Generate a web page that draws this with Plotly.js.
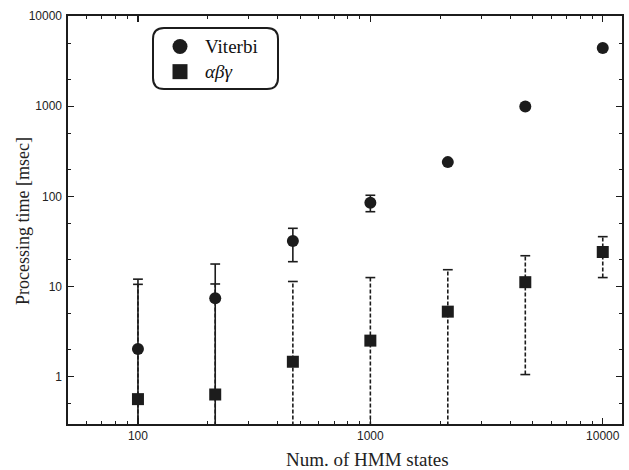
<!DOCTYPE html>
<html>
<head>
<meta charset="utf-8">
<script src="https://cdn.plot.ly/plotly-3.0.1.min.js"></script>
<style>html,body{margin:0;padding:0;background:#fff;}#chart{width:629px;height:470px;}</style>
</head>
<body>
<div id="chart"></div>
<script>
// Data
const states = [100, 215, 464, 1000, 2154, 4642, 10000];
const viterbi = [2.04, 7.45, 32, 85, 240, 990, 4430];
const viterbiHi = [12.1, 17.8, 44.3, 103, null, null, null];
const viterbiLo = [0, 0, 18.9, 67.7, null, null, null];
const abg = [0.566, 0.637, 1.47, 2.52, 5.28, 11.2, 24.2];
const abgHi = [10.6, 10.7, 11.4, 12.6, 15.4, 22, 35.8];
const abgLo = [0, 0, 0, 0, 0, 1.06, 12.6];
const seriesNames = ['Viterbi', '<i>αβγ</i>'];
const xTitle = 'Num. of HMM states';
const yTitle = 'Processing time [msec]';

const INK = '#1c1c1c';
const SERIF = '"Liberation Serif", "DejaVu Serif", serif';
const FLOOR = 1e-3; // lower bound "0" drawn to below the axis

function barLines(xs, lo, hi, dash) {
  const X = [], Y = [];
  for (let i = 0; i < xs.length; i++) {
    if (hi[i] == null) continue;
    X.push(xs[i], xs[i], null);
    Y.push(lo[i] > 0 ? lo[i] : FLOOR, hi[i], null);
  }
  return {x: X, y: Y, mode: 'lines', showlegend: false, hoverinfo: 'skip',
          line: {color: INK, width: 1.6, dash: dash}};
}
function barCaps(xs, lo, hi) {
  const X = [], Y = [];
  for (let i = 0; i < xs.length; i++) {
    if (hi[i] != null) { X.push(xs[i]); Y.push(hi[i]); }
    if (lo[i] != null && lo[i] > 0) { X.push(xs[i]); Y.push(lo[i]); }
  }
  return {x: X, y: Y, mode: 'markers', showlegend: false, hoverinfo: 'skip',
          marker: {symbol: 'line-ew', size: 7, color: INK, line: {color: INK, width: 1.6}}};
}

const traces = [
  barLines(states, viterbiLo, viterbiHi, 'solid'),
  barCaps(states, viterbiLo, viterbiHi),
  barLines(states, abgLo, abgHi, '4px,2px'),
  barCaps(states, abgLo, abgHi),
  {x: states, y: viterbi, name: seriesNames[0], mode: 'markers', showlegend: false,
   marker: {symbol: 'circle', size: 12, color: INK}},
  {x: states, y: abg, name: seriesNames[1], mode: 'markers', showlegend: false,
   marker: {symbol: 'square', size: 12, color: INK}},
  // legend keys (no data points); their labels are drawn as annotations below
  {x: [null], y: [null], name: '\u00a0', mode: 'markers', showlegend: true,
   marker: {symbol: 'circle', size: 15, color: INK}},
  {x: [null], y: [null], name: '\u00a0', mode: 'markers', showlegend: true,
   marker: {symbol: 'square', size: 15, color: INK}}
];

const W = 629, H = 470, ML = 68, MR = 7, MT = 16, MB = 46;
const PW = W - ML - MR, PH = H - MT - MB;
function px(x) { return (x - ML) / PW; }
function py(y) { return (H - MB - y) / PH; }
function roundRect(x0, y0, x1, y1, r) {
  const rx = r / PW, ry = r / PH;
  const a = px(x0), b = px(x1), top = py(y0), bot = py(y1);
  return `M ${a + rx},${top} L ${b - rx},${top} Q ${b},${top} ${b},${top - ry} ` +
         `L ${b},${bot + ry} Q ${b},${bot} ${b - rx},${bot} L ${a + rx},${bot} ` +
         `Q ${a},${bot} ${a},${bot + ry} L ${a},${top - ry} Q ${a},${top} ${a + rx},${top} Z`;
}

const axisCommon = {
  type: 'log', showgrid: false, zeroline: false,
  showline: true, linecolor: INK, linewidth: 1.6, mirror: 'ticks',
  ticks: 'inside', ticklen: 6, tickwidth: 1.2, tickcolor: INK,
  tickfont: {family: '"Liberation Sans", Arial, sans-serif', size: 12, color: '#222'},
};

const legendLabel = (txt, yPix) => ({
  text: txt, xref: 'paper', yref: 'paper', x: px(203), y: py(yPix),
  xanchor: 'left', yanchor: 'middle', showarrow: false,
  font: {family: SERIF, size: 19, color: '#111'}
});

const layout = {
  width: W, height: H,
  margin: {l: ML, r: MR, t: MT, b: MB},
  paper_bgcolor: '#fff', plot_bgcolor: '#fff',
  font: {family: SERIF, color: '#111'},
  showlegend: true,
  legend: {x: px(157), y: py(29), xanchor: 'left', yanchor: 'top',
           bgcolor: 'rgba(0,0,0,0)', borderwidth: 0, itemwidth: 36,
           font: {family: SERIF, size: 17, color: '#111'},
           tracegroupgap: 0},
  xaxis: Object.assign({}, axisCommon, {
    range: [Math.log10(50), Math.log10(12100)],
    tickvals: [100, 1000, 10000], ticktext: ['100', '1000', '10000'],
    minor: {ticks: 'inside', ticklen: 3, tickwidth: 1, tickcolor: INK, dtick: 'D1', showgrid: false}
  }),
  yaxis: Object.assign({}, axisCommon, {
    range: [Math.log10(0.3), 4],
    tickvals: [1, 10, 100, 1000, 10000], ticktext: ['1', '10', '100', '1000', '10000'],
    ticklabelstandoff: 2,
    minor: {ticks: 'inside', ticklen: 3, tickwidth: 1, tickcolor: INK, dtick: 'D2', showgrid: false}
  }),
  annotations: [
    {text: xTitle, xref: 'paper', yref: 'paper', x: px(367), y: py(460),
     xanchor: 'center', yanchor: 'middle', showarrow: false,
     font: {family: SERIF, size: 19, color: '#222'}},
    {text: yTitle, xref: 'paper', yref: 'paper', x: px(23), y: py(221),
     xanchor: 'center', yanchor: 'middle', showarrow: false, textangle: -90,
     font: {family: SERIF, size: 18, color: '#222'}},
    legendLabel(seriesNames[0], 47),
    legendLabel(seriesNames[1], 72)
  ],
  shapes: [{type: 'path', xref: 'paper', yref: 'paper',
            path: roundRect(153, 28, 278, 89, 11),
            line: {color: INK, width: 2}, fillcolor: 'rgba(0,0,0,0)'}]
};

Plotly.newPlot('chart', traces, layout, {displayModeBar: false, staticPlot: true});
</script>
</body>
</html>
